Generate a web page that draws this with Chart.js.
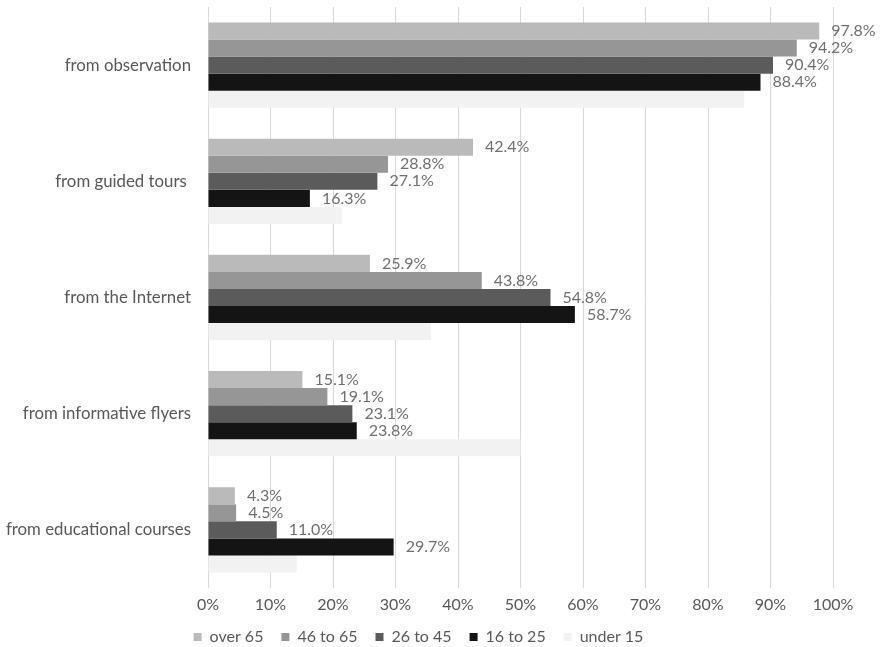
<!DOCTYPE html>
<html>
<head>
<meta charset="utf-8">
<script src="https://cdn.jsdelivr.net/npm/chart.js@4"></script>
<style>
html,body{margin:0;padding:0;background:#fff;}
#wrap{width:882px;height:647px;position:relative;}
</style>
</head>
<body>
<div id="wrap"><canvas id="c" width="882" height="647"></canvas></div>
<script>
const categories = ["from observation", "from guided tours ", "from the Internet", "from informative flyers", "from educational courses"];
const seriesNames = ["over 65", "46 to 65", "26 to 45", "16 to 25", "under 15"];
const over65 = [97.8, 42.4, 25.9, 15.1, 4.3];
const age46to65 = [94.2, 28.8, 43.8, 19.1, 4.5];
const age26to45 = [90.4, 27.1, 54.8, 23.1, 11.0];
const age16to25 = [88.4, 16.3, 58.7, 23.8, 29.7];
const under15 = [85.8, 21.4, 35.7, 50.0, 14.2];
const xTicks = [0, 10, 20, 30, 40, 50, 60, 70, 80, 90, 100];

const colors = ["#bababa", "#969696", "#5b5b5b", "#141414", "#f2f2f2"];
const seriesValues = [over65, age46to65, age26to45, age16to25, under15];
const labeled = [true, true, true, true, false];

const FONT = "Lato, 'Open Sans', sans-serif";

const dataLabels = {
  id: 'dataLabels',
  afterDatasetsDraw(chart) {
    const ctx = chart.ctx;
    ctx.save();
    ctx.font = "16px " + FONT;
    ctx.fillStyle = "#707070";
    ctx.textAlign = "left";
    ctx.textBaseline = "middle";
    chart.data.datasets.forEach((ds, di) => {
      if (!labeled[di]) return;
      const meta = chart.getDatasetMeta(di);
      meta.data.forEach((bar, i) => {
        ctx.fillText(ds.data[i].toFixed(1) + "%", bar.x + 12, bar.y);
      });
    });
    ctx.restore();
  }
};

new Chart(document.getElementById('c'), {
  type: 'bar',
  data: {
    labels: categories,
    datasets: seriesNames.map((n, i) => ({
      label: n,
      data: seriesValues[i],
      backgroundColor: colors[i],
      borderWidth: 0,
      categoryPercentage: 0.734,
      barPercentage: 1.0
    }))
  },
  options: {
    indexAxis: 'y',
    responsive: false,
    animation: false,
    layout: { padding: { left: 4, right: 49, top: 7, bottom: -8 } },
    plugins: {
      tooltip: { enabled: false },
      legend: {
        position: 'bottom',
        labels: {
          boxWidth: 8,
          boxHeight: 8,
          padding: 18,
          color: "#595959",
          font: { family: FONT, size: 16 }
        }
      }
    },
    scales: {
      x: {
        min: 0,
        max: 100,
        afterBuildTicks(scale) { scale.ticks = xTicks.map(v => ({ value: v })); },
        afterFit(scale) { scale.height = 23; },
        ticks: {
          color: "#595959",
          font: { family: FONT, size: 16 },
          padding: 7,
          callback: v => v + "%"
        },
        grid: { color: "#d9d9d9", lineWidth: 1, drawTicks: false },
        border: { display: false }
      },
      y: {
        afterFit(scale) { scale.width = 204; scale.paddingTop = 0; scale.paddingBottom = 0; },
        ticks: {
          color: "#595959",
          font: { family: FONT, size: 16.8 },
          padding: 17
        },
        grid: { display: false, drawTicks: false },
        border: { display: false }
      }
    }
  },
  plugins: [dataLabels]
});
</script>
</body>
</html>
